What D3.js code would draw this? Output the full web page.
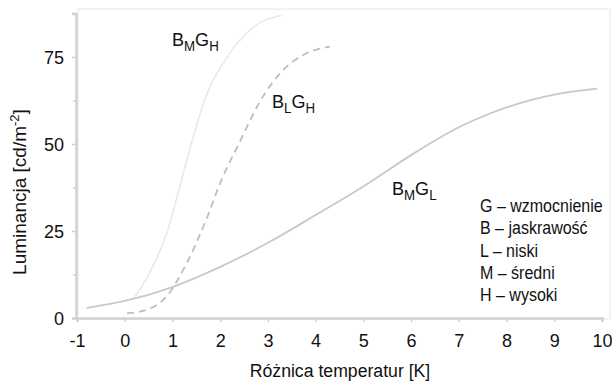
<!DOCTYPE html>
<html>
<head>
<meta charset="utf-8">
<script src="https://cdn.jsdelivr.net/npm/d3@7"></script>
<style>
  body { margin: 0; background: #fff; }
  svg text { font-family: "Liberation Sans", Arial, sans-serif; fill: #111; }
</style>
</head>
<body>
<svg id="chart"></svg>
<script>
"use strict";

// curve values
const bmglX = [-0.8, 0, 1, 2, 3, 4, 5, 6, 6.5, 7, 7.5, 8, 8.5, 9, 9.9];
const bmglY = [2.9, 4.9, 8.9, 14.7, 21.6, 29.6, 37.8, 46.8, 51.0, 54.8, 57.9, 60.5, 62.6, 64.2, 65.9];

const blghX = [0.05, 0.4, 0.9, 1.3, 1.7, 2.0, 2.4, 2.85, 3.3, 3.8, 4.3];
const blghY = [1.4, 2.1, 6.6, 15.8, 28, 38.8, 50.3, 62.6, 71, 76, 78];

const bmghX = [0.2, 0.55, 0.9, 1.15, 1.4, 1.7, 2.15, 2.7, 3.3];
const bmghY = [5.8, 13.8, 25.3, 37.5, 50.3, 63.5, 75, 83.6, 87];

const xTicks = [-1, 0, 1, 2, 3, 4, 5, 6, 7, 8, 9, 10];
const yTicks = [0, 25, 50, 75];
const yMinorTicks = [12.5, 37.5, 62.5, 87.5];

const legendLines = [
  ["G", "wzmocnienie"],
  ["B", "jaskrawość"],
  ["L", "niski"],
  ["M", "średni"],
  ["H", "wysoki"]
];

let width = 612;
let height = 382;

let svg = d3.select('#chart')
  .attr('width', width)
  .attr('height', height);

let xScale = d3.scaleLinear().domain([-1, 10]).range([77, 602]);
let yScale = d3.scaleLinear().domain([0, 87.5]).range([318, 13.5]);

// squeeze a text horizontally around its anchor point (the original font is condensed)
let narrow = (sel, k) => {
  sel.each(function () {
    let t = d3.select(this);
    let x = +t.attr('x') || 0;
    let base = t.attr('transform') || '';
    t.attr('transform', base + ' translate(' + x + ',0) scale(' + k + ',1) translate(' + (-x) + ',0)');
  });
};

// faint frame
svg.append('rect')
  .attr('x', 78).attr('y', 9)
  .attr('width', 532).attr('height', 310)
  .attr('fill', 'none')
  .attr('stroke', '#efefef')
  .attr('stroke-width', 1.5);

let xAxis = d3.axisBottom(xScale)
  .tickValues(xTicks)
  .tickSize(4)
  .tickPadding(12)
  .tickFormat(d => String(d));

let yAxis = d3.axisLeft(yScale)
  .tickValues(yTicks)
  .tickSize(4)
  .tickPadding(8);

let gx = svg.append('g')
  .attr('transform', 'translate(0,' + 318 + ')')
  .call(xAxis);

let gy = svg.append('g')
  .attr('transform', 'translate(' + 76 + ',0)')
  .call(yAxis);

svg.append('g')
  .attr('transform', 'translate(' + 76 + ',0)')
  .call(d3.axisLeft(yScale).tickValues(yMinorTicks).tickSize(3).tickFormat(''))
  .call(g => g.select('.domain').remove());

[gx, gy].forEach(g => {
  g.select('.domain').attr('stroke', '#d2d2d2').attr('stroke-width', 2.5);
  g.selectAll('.tick text').attr('font-size', 19).attr('fill', '#111')
    .style('font-family', '"Liberation Sans", Arial, sans-serif');
});
svg.selectAll('.tick line').attr('stroke', '#cfcfcf').attr('stroke-width', 1.5);
narrow(gx.selectAll('.tick text'), 0.95);
narrow(gy.selectAll('.tick text'), 0.95);

let line = d3.line()
  .x(d => xScale(d[0]))
  .y(d => yScale(d[1]))
  .curve(d3.curveMonotoneX);

const zip = (xs, ys) => xs.map((x, i) => [x, ys[i]]);

svg.append('path')
  .datum(zip(bmglX, bmglY))
  .attr('d', line)
  .attr('fill', 'none')
  .attr('stroke', '#c9c9c9')
  .attr('stroke-width', 1.8);

svg.append('path')
  .datum(zip(blghX, blghY))
  .attr('d', line)
  .attr('fill', 'none')
  .attr('stroke', '#bdbdbd')
  .attr('stroke-width', 1.8)
  .attr('stroke-dasharray', '7,5');

svg.append('path')
  .datum(zip(bmghX, bmghY))
  .attr('d', line)
  .attr('fill', 'none')
  .attr('stroke', '#d8d8d8')
  .attr('stroke-width', 1.5)
  .attr('stroke-dasharray', '1.5,1');

// curve labels
let curveLabel = (x, y, a, sa, b, sb) => {
  let t = svg.append('text')
    .attr('x', x).attr('y', y)
    .attr('font-size', 19);
  t.append('tspan').text(a);
  t.append('tspan').attr('font-size', 14).attr('dy', 5).text(sa);
  t.append('tspan').attr('dy', -5).text(b);
  t.append('tspan').attr('font-size', 14).attr('dy', 5).text(sb);
  narrow(t, 0.95);
};
curveLabel(172, 46, 'B', 'M', 'G', 'H');
curveLabel(272, 108, 'B', 'L', 'G', 'H');
curveLabel(392, 195, 'B', 'M', 'G', 'L');

// legend
let legend = svg.append('g')
  .selectAll('text')
  .data(legendLines)
  .enter()
  .append('text')
  .attr('x', 480)
  .attr('y', (d, i) => 212 + i * 22.3)
  .attr('font-size', 18)
  .text(d => d[0] + ' – ' + d[1]);
narrow(legend, 0.89);

// axis titles
let xt = svg.append('text')
  .attr('x', 340)
  .attr('y', 377)
  .attr('text-anchor', 'middle')
  .attr('font-size', 19)
  .text('Różnica temperatur [K]');
narrow(xt, 0.93);

let yl = svg.append('text')
  .attr('transform', 'translate(26,192) rotate(-90)')
  .attr('text-anchor', 'middle')
  .attr('font-size', 19);
yl.append('tspan').text('Luminancja [cd/m');
yl.append('tspan').attr('font-size', 13).attr('dy', -7).text('-2');
yl.append('tspan').attr('dy', 7).text(']');
</script>
</body>
</html>
